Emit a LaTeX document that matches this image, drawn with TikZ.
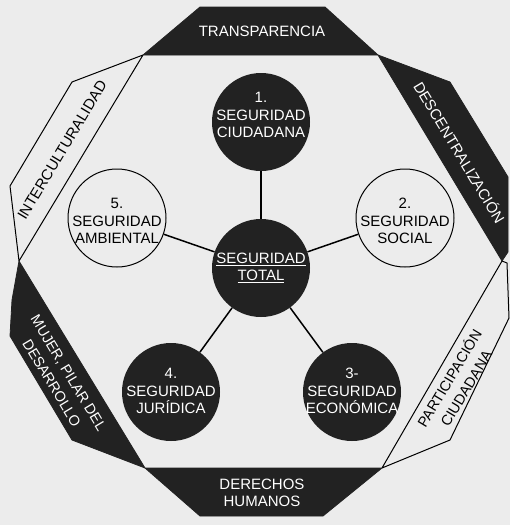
\documentclass[tikz,border=0pt]{standalone}
\usepackage{fontspec}
\setmainfont{Liberation Sans}
\definecolor{bg}{RGB}{236,236,236}
\definecolor{dark}{RGB}{34,34,34}
\begin{document}
\begin{tikzpicture}[x=1pt,y=-1pt,
  darkband/.style={fill=dark,draw=dark,line width=0.8pt,line join=round},
  lightband/.style={fill=bg,draw=black,line width=1pt,line join=round},
  txt/.style={font=\fontsize{15}{17.5}\selectfont,align=center,inner sep=0pt},
  wtxt/.style={txt,text=white},
  rtxt/.style={font=\fontsize{14.5}{19.5}\selectfont,align=center,inner sep=0pt},
  darkcirc/.style={circle,fill=dark,minimum size=98pt,inner sep=0pt},
  lightcirc/.style={circle,draw=black,line width=1pt,fill=bg,minimum size=98pt,inner sep=0pt},
  link/.style={line width=1.5pt}]
\fill[bg] (0,0) rectangle (510,525);
\useasboundingbox (0,0) rectangle (510,525);
% bands
\draw[darkband] (143,55) -- (200,7) -- (325,7) -- (378,55) -- cycle;
\draw[darkband] (378,55) -- (450,82) -- (508,177) -- (508,252) -- (502,261) -- cycle;
\draw[lightband] (502,261) -- (507,263) -- (509,318) -- (450,440) -- (382,468) -- cycle;
\draw[darkband] (145,468) -- (382,468) -- (323,516) -- (200,516) -- cycle;
\draw[darkband] (19,261) -- (12,300) -- (10,336) -- (72,440) -- (145,468) -- cycle;
\draw[lightband] (143,55) -- (72,82) -- (10,186) -- (19,261) -- cycle;
% band texts
\node[wtxt] (tt) at (262,31) {TRANSPARENCIA};
\node[wtxt,rotate=-59] (td) at (460,152) {DESCENTRALIZACIÓN};
\node[txt,rotate=59] (ti) at (62,150) {INTERCULTURALIDAD};
\node[rtxt,text=white,rotate=-59] (tm) at (60,378) {MUJER, PILAR DEL\\DESARROLLO};
\node[rtxt,rotate=59] (tp) at (457,383) {PARTICIPACIÓN\\CIUDADANA};
\node[wtxt] (th) at (262,493) {DERECHOS\\HUMANOS};
% circles
\node[darkcirc] (c0) at (261,268) {};
\node[darkcirc] (c1) at (261,122) {};
\node[lightcirc] (c2) at (405,218) {};
\node[darkcirc] (c3) at (352,392) {};
\node[darkcirc] (c4) at (171,392) {};
\node[lightcirc] (c5) at (117,218) {};
% links
\draw[link] (c0) -- (c1);
\draw[link] (c0) -- (c2);
\draw[link] (c0) -- (c3);
\draw[link] (c0) -- (c4);
\draw[link] (c0) -- (c5);
% circle texts
\node[wtxt] (l0) at (261,268) {\underline{SEGURIDAD}\\\underline{TOTAL}};
\node[wtxt] (l1) at (261,115) {1.\\SEGURIDAD\\CIUDADANA};
\node[txt] (l2) at (405,221) {2.\\SEGURIDAD\\SOCIAL};
\node[wtxt] (l3) at (352,391) {3-\\SEGURIDAD\\ECONÓMICA};
\node[wtxt] (l4) at (171,391) {4.\\SEGURIDAD\\JURÍDICA};
\node[txt] (l5) at (117,221) {5.\\SEGURIDAD\\AMBIENTAL};
\end{tikzpicture}
\end{document}
